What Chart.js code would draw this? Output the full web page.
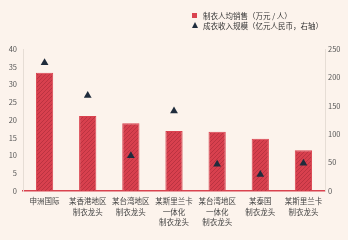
<!DOCTYPE html>
<html>
<head>
<meta charset="utf-8">
<script src="https://cdn.jsdelivr.net/npm/chart.js@4"></script>
<style>
  html, body { margin: 0; padding: 0; background: #fcf3ec; }
  #wrap { position: relative; width: 348px; height: 240px; }
  #legend { position: absolute; left: 192px; top: 11px; font: 7.5px "Noto Sans CJK SC", sans-serif; color: #333; }
  .row { display: flex; align-items: center; height: 9.5px; }
  .sq { width: 5px; height: 5px; background: #d9434f; margin-right: 6px; }
  .tri { width: 0; height: 0; border-left: 3px solid transparent; border-right: 3px solid transparent; border-bottom: 6px solid #1f2c3c; margin-right: 5px; }
</style>
</head>
<body>
<div id="wrap">
  <canvas id="chart" width="348" height="240"></canvas>
  <div id="legend">
    <div class="row"><span class="sq"></span>制衣人均销售（万元 / 人）</div>
    <div class="row"><span class="tri"></span>成衣收入规模（亿元人民币，右轴）</div>
  </div>
</div>
<script>
// 数据
const companies = [
  '申洲国际',
  ['某香港地区', '制衣龙头'],
  ['某台湾地区', '制衣龙头'],
  ['某斯里兰卡', '一体化', '制衣龙头'],
  ['某台湾地区', '一体化', '制衣龙头'],
  ['某泰国', '制衣龙头'],
  ['某斯里兰卡', '制衣龙头']
];
const salesPerCapita = [33.3, 21.1, 19.1, 16.9, 16.7, 14.7, 11.5];
const revenueScale = [226, 168, 62, 141, 47, 29, 49];
const leftTicks = [0, 40, 5];
const rightTicks = [0, 250, 50];

// motif hachuré pour les barres
function makeHatch() {
  const c = document.createElement('canvas');
  c.width = 4; c.height = 4;
  const g = c.getContext('2d');
  g.fillStyle = '#d8404e';
  g.fillRect(0, 0, 4, 4);
  g.strokeStyle = '#bb3341';
  g.lineWidth = 1;
  g.beginPath();
  g.moveTo(0, 4); g.lineTo(4, 0);
  g.moveTo(-1, 1); g.lineTo(1, -1);
  g.moveTo(3, 5); g.lineTo(5, 3);
  g.stroke();
  return g.createPattern(c, 'repeat');
}

const ctx = document.getElementById('chart').getContext('2d');
const tickFont = { family: '"Noto Sans CJK SC", sans-serif', size: 7.5 };

new Chart(ctx, {
  data: {
    labels: companies,
    datasets: [
      {
        type: 'line',
        label: '成衣收入规模（亿元人民币，右轴）',
        data: revenueScale,
        yAxisID: 'y1',
        showLine: false,
        pointStyle: 'triangle',
        pointRadius: 4.5,
        backgroundColor: '#1f2c3c',
        borderColor: '#1f2c3c',
        borderWidth: 0
      },
      {
        type: 'bar',
        label: '制衣人均销售（万元 / 人）',
        data: salesPerCapita,
        yAxisID: 'y',
        backgroundColor: makeHatch(),
        borderColor: '#d9434f',
        borderWidth: 1,
        categoryPercentage: 1,
        barPercentage: 0.4
      }
    ]
  },
  options: {
    responsive: false,
    animation: false,
    layout: { padding: { top: 49, left: 0, right: 0, bottom: 0 } },
    plugins: { legend: { display: false }, tooltip: { enabled: false } },
    scales: {
      x: {
        grid: { display: false, drawTicks: false },
        border: { color: '#d9434f', width: 1.5 },
        ticks: { color: '#444', font: { ...tickFont, lineHeight: 1.4 }, maxRotation: 0, autoSkip: false, padding: 5 },
        afterFit(scale) { scale.height = 49; }
      },
      y: {
        position: 'left',
        min: leftTicks[0], max: leftTicks[1],
        grid: { display: false, drawTicks: false },
        border: { color: '#e6ddd5' },
        ticks: { stepSize: leftTicks[2], color: '#555', font: tickFont, padding: 6 },
        afterFit(scale) { scale.width = 23; }
      },
      y1: {
        position: 'right',
        min: rightTicks[0], max: rightTicks[1],
        grid: { display: false, drawTicks: false },
        border: { color: '#e6ddd5' },
        ticks: { stepSize: rightTicks[2], color: '#555', font: tickFont, padding: 3 },
        afterFit(scale) { scale.width = 23; }
      }
    }
  }
});
</script>
</body>
</html>
